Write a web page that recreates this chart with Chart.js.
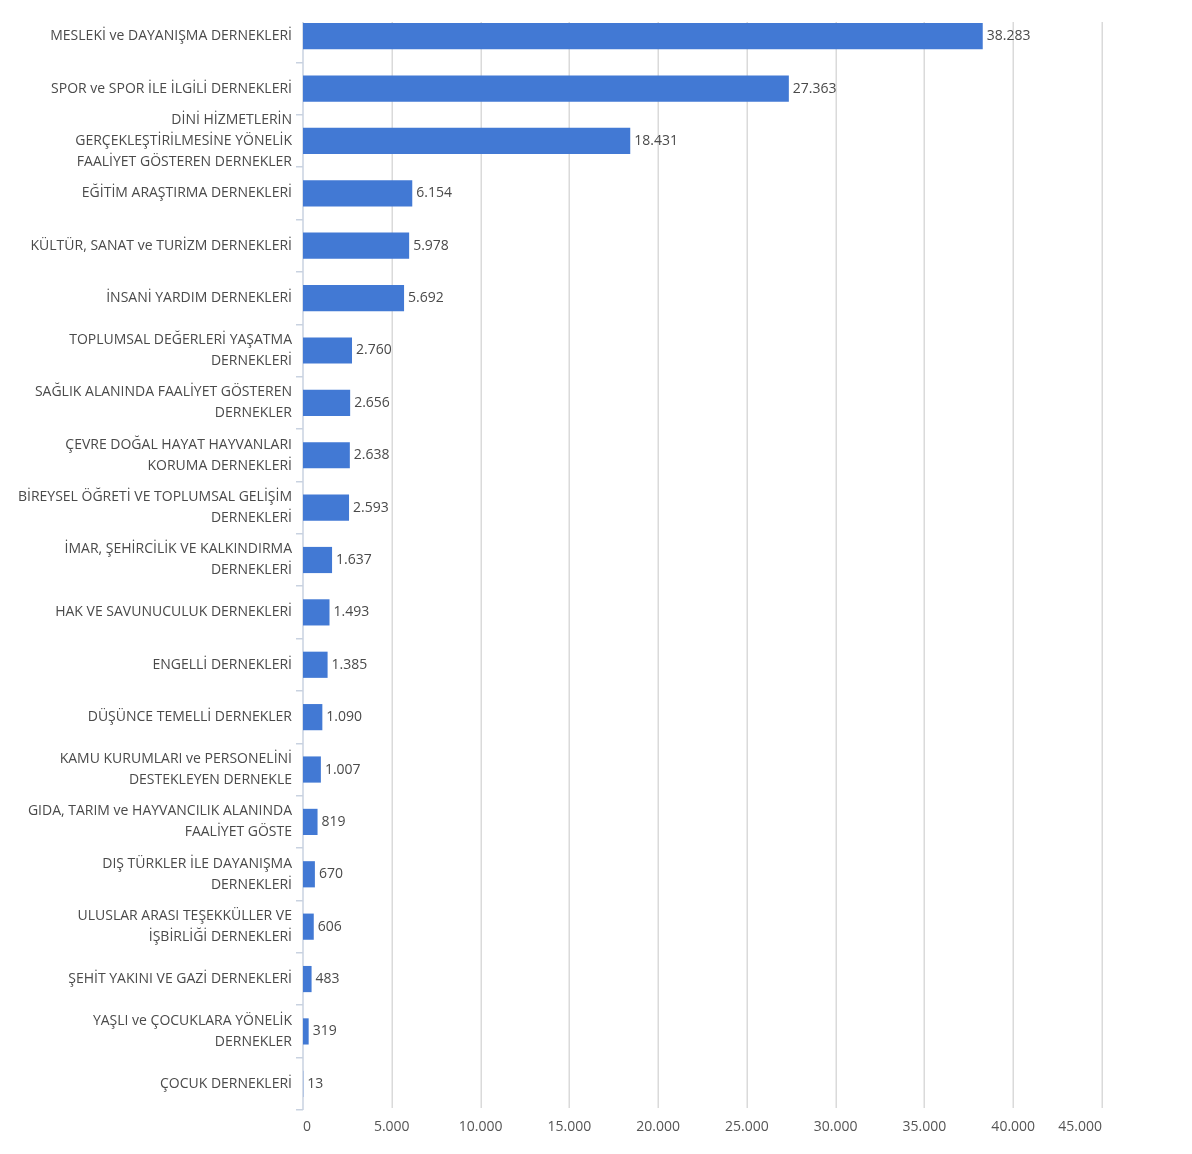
<!DOCTYPE html>
<html>
<head>
<meta charset="utf-8">
<script src="https://cdn.jsdelivr.net/npm/chart.js@4"></script>
<style>
html,body{margin:0;padding:0;background:#fff;}
#wrap{width:1192px;height:1154px;position:relative;}
</style>
</head>
<body>
<div id="wrap"><canvas id="c" width="1192" height="1154"></canvas></div>
<script>
const categories = [
  "MESLEKİ ve DAYANIŞMA DERNEKLERİ",
  "SPOR ve SPOR İLE İLGİLİ DERNEKLERİ",
  ["DİNİ HİZMETLERİN", "GERÇEKLEŞTİRİLMESİNE YÖNELİK", "FAALİYET GÖSTEREN DERNEKLER"],
  "EĞİTİM ARAŞTIRMA DERNEKLERİ",
  "KÜLTÜR, SANAT ve TURİZM DERNEKLERİ",
  "İNSANİ YARDIM DERNEKLERİ",
  ["TOPLUMSAL DEĞERLERİ YAŞATMA", "DERNEKLERİ"],
  ["SAĞLIK ALANINDA FAALİYET GÖSTEREN", "DERNEKLER"],
  ["ÇEVRE DOĞAL HAYAT HAYVANLARI", "KORUMA DERNEKLERİ"],
  ["BİREYSEL ÖĞRETİ VE TOPLUMSAL GELİŞİM", "DERNEKLERİ"],
  ["İMAR, ŞEHİRCİLİK VE KALKINDIRMA", "DERNEKLERİ"],
  "HAK VE SAVUNUCULUK DERNEKLERİ",
  "ENGELLİ DERNEKLERİ",
  "DÜŞÜNCE TEMELLİ DERNEKLER",
  ["KAMU KURUMLARI ve PERSONELİNİ", "DESTEKLEYEN DERNEKLE"],
  ["GIDA, TARIM ve HAYVANCILIK ALANINDA", "FAALİYET GÖSTE"],
  ["DIŞ TÜRKLER İLE DAYANIŞMA", "DERNEKLERİ"],
  ["ULUSLAR ARASI TEŞEKKÜLLER VE", "İŞBİRLİĞİ DERNEKLERİ"],
  "ŞEHİT YAKINI VE GAZİ DERNEKLERİ",
  ["YAŞLI ve ÇOCUKLARA YÖNELİK", "DERNEKLER"],
  "ÇOCUK DERNEKLERİ"
];
const values = [38283, 27363, 18431, 6154, 5978, 5692, 2760, 2656, 2638, 2593, 1637, 1493, 1385, 1090, 1007, 819, 670, 606, 483, 319, 13];
const xMin = 0;
const xMax = 45000;
const xStep = 5000;

function fmt(v){ return String(Math.round(v)).replace(/\B(?=(\d{3})+(?!\d))/g, "."); }

const FONT = "'Open Sans', sans-serif";
const GRID_TOP_GAP = 12;

// vertical gridlines and the category axis line, starting slightly below the chart top
const gridPlugin = {
  id: 'gridPlugin',
  beforeDatasetsDraw(chart){
    const ctx = chart.ctx;
    const xs = chart.scales.x;
    const area = chart.chartArea;
    const top = area.top + GRID_TOP_GAP;
    ctx.save();
    ctx.lineWidth = 1.5;
    ctx.strokeStyle = '#dadada';
    xs.ticks.forEach(t => {
      if (t.value === xMin) return;
      const x = Math.round(xs.getPixelForValue(t.value)) + 0.25;
      ctx.beginPath();
      ctx.moveTo(x, top);
      ctx.lineTo(x, area.bottom - 2);
      ctx.stroke();
    });
    ctx.strokeStyle = '#c9d2e0';
    const x0 = xs.getPixelForValue(xMin);
    ctx.beginPath();
    ctx.moveTo(x0, top);
    ctx.lineTo(x0, area.bottom);
    ctx.stroke();
    ctx.restore();
  }
};

const valueLabels = {
  id: 'valueLabels',
  afterDatasetsDraw(chart){
    const ctx = chart.ctx;
    const meta = chart.getDatasetMeta(0);
    ctx.save();
    ctx.font = "14px " + FONT;
    ctx.fillStyle = '#4a4a4a';
    ctx.textAlign = 'left';
    ctx.textBaseline = 'middle';
    meta.data.forEach((bar, i) => {
      ctx.fillText(fmt(values[i]), bar.x + 4, bar.y);
    });
    ctx.restore();
  }
};

new Chart(document.getElementById('c'), {
  type: 'bar',
  data: {
    labels: categories,
    datasets: [{
      data: values,
      backgroundColor: '#4279d4',
      borderWidth: 0,
      barPercentage: 0.5,
      categoryPercentage: 1.0
    }]
  },
  plugins: [gridPlugin, valueLabels],
  options: {
    indexAxis: 'y',
    responsive: false,
    animation: false,
    devicePixelRatio: 1,
    layout: { padding: { left: 0, right: 90, top: 10, bottom: 0 } },
    plugins: { legend: { display: false }, tooltip: { enabled: false } },
    scales: {
      x: {
        min: xMin, max: xMax,
        ticks: {
          stepSize: xStep,
          color: '#555555',
          font: { family: FONT, size: 14 },
          padding: 9,
          maxRotation: 0,
          align: 'inner',
          callback: (v) => fmt(v)
        },
        grid: { display: false, drawTicks: false },
        border: { display: false },
        afterFit(scale){ scale.height = 44; scale.paddingLeft = 0; scale.paddingRight = 0; }
      },
      y: {
        ticks: {
          color: '#4a4a4a',
          font: { family: FONT, size: 14, lineHeight: 1.5 },
          padding: 4,
          autoSkip: false
        },
        grid: {
          drawOnChartArea: false, drawTicks: true, tickLength: 7, lineWidth: 1.5,
          color: (c) => (c.index === 0 ? 'rgba(0,0,0,0)' : '#c9d2e0')
        },
        border: { display: false },
        afterFit(scale){ scale.width = 303; scale.paddingTop = 0; scale.paddingBottom = 0; }
      }
    }
  }
});
</script>
</body>
</html>
